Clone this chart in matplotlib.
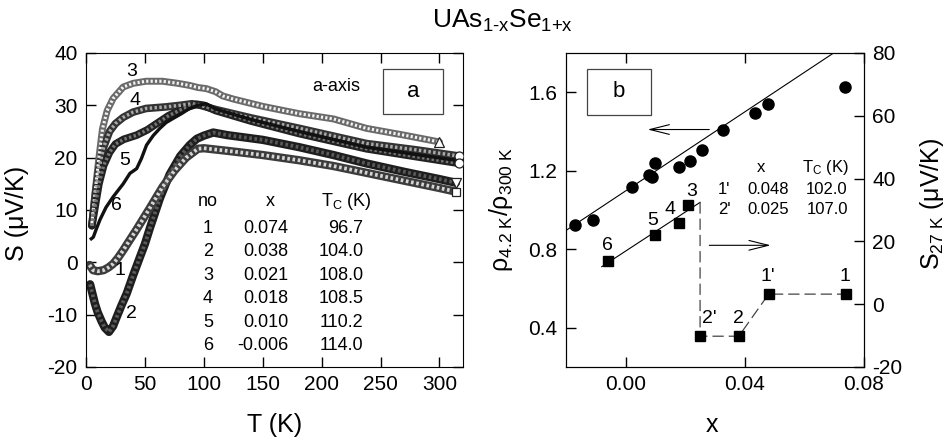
"""UAs(1-x)Se(1+x): thermopower S(T) and resistivity ratio / S_27K vs x."""
import matplotlib
matplotlib.use("Agg")
import matplotlib.pyplot as plt
from matplotlib.patches import Rectangle
import numpy as np

plt.rcParams["font.family"] = ["Liberation Sans", "DejaVu Sans"]
plt.rcParams["mathtext.fontset"] = "custom"
plt.rcParams["mathtext.rm"] = "Liberation Sans"
plt.rcParams["mathtext.it"] = "Liberation Sans"
plt.rcParams["mathtext.default"] = "regular"
plt.rcParams["axes.unicode_minus"] = False

# --- panel a: S(T) curves ------------------------------------------------
T1 = [3, 6, 10, 15, 19, 23, 27, 31.6, 37, 43, 54, 65, 75, 85, 95, 100, 120,
      150, 181, 210, 238, 270, 300, 314]
S1 = [-0.5, -1.5, -1.7, -1.5, -1.0, -0.3, 0.8, 2.3, 4.2, 6.3, 10.3, 14.4, 17.5,
      20.0, 21.7, 21.8, 21.3, 20.5, 19.5, 18.4, 17.1, 15.6, 14.2, 13.5]
T2 = [3.5, 7.6, 10, 13.3, 16, 19.5, 23, 26, 30, 34.5, 40, 45.8, 50, 54.2, 62.7,
      71, 80, 88, 94, 100, 108, 120, 150, 181, 210, 238, 270, 300, 314]
S2 = [-4.2, -7.9, -9.6, -11.3, -12.5, -13.3, -12.2, -10.5, -8.3, -6.0, -2.5, 1.0,
      3.5, 6.5, 12.2, 16.8, 20.3, 22.4, 23.6, 24.2, 24.8, 24.3, 23.4, 22.0,
      20.5, 18.9, 17.3, 15.9, 15.2]
T3 = [5, 8, 11, 14, 18, 23, 31.6, 40, 51, 65, 78, 88, 95, 102, 110, 116, 125,
      150, 181, 210, 238, 270, 300]
S3 = [7.5, 14, 20, 25.5, 29, 31.3, 33.5, 34.2, 34.6, 34.6, 34.2, 33.8, 33.4,
      33.2, 32.6, 31.8, 31.2, 29.8, 28.4, 27.4, 25.6, 24.3, 23.0]
T4 = [5, 8, 11, 15, 20, 25, 31.6, 40, 51, 68, 80, 90, 97, 110, 140, 181, 238,
      280, 317]
S4 = [7, 13, 18, 22, 25, 26.5, 27.7, 28.7, 29.4, 29.7, 30.0, 30.3, 30.0, 29.2,
      27.6, 25.6, 22.7, 21.5, 20.3]
T5 = [5, 8, 11, 15, 20, 25, 32, 43, 52, 60, 70, 80, 88, 94, 100, 110, 140, 181,
      238, 280, 317]
S5 = [7, 11, 15, 18.5, 21, 22.6, 23.5, 24.3, 25.3, 26.5, 28.0, 29.1, 29.8, 30.2,
      30.0, 29.0, 27.0, 24.6, 21.7, 20.2, 18.9]
T6 = [4.5, 6.2, 9, 12, 17, 23, 31.6, 37.3, 43, 47, 51.4, 57, 62.7, 68, 74, 81,
      88, 95, 102, 110, 140, 181, 238, 280, 317]
S6 = [4.5, 4.8, 6.5, 8.2, 10.5, 12.5, 15.0, 17.0, 17.9, 19.8, 22.4, 24.2, 25.6,
      26.7, 27.5, 28.4, 29.4, 30.0, 30.3, 29.3, 27.3, 25.0, 22.0, 20.6, 19.4]

table_no = ["1", "2", "3", "4", "5", "6"]
table_x = ["0.074", "0.038", "0.021", "0.018", "0.010", "-0.006"]
table_tc = ["96.7", "104.0", "108.0", "108.5", "110.2", "114.0"]

# --- panel b ------------------------------------------------------------------
x_rho = [-0.0171, -0.0109, 0.002, 0.0078, 0.0089, 0.0098, 0.0178, 0.0217,
         0.0255, 0.0327, 0.0435, 0.0477, 0.0735]
rho_ratio = [0.922, 0.95, 1.119, 1.178, 1.166, 1.237, 1.217, 1.251, 1.308,
             1.406, 1.496, 1.538, 1.629]
rho_fit = (10.07, 1.097)          # slope, intercept

x_s27 = [-0.006, 0.010, 0.018, 0.021, 0.025, 0.038, 0.048, 0.074]
s27 = [13.7, 22.0, 25.9, 31.7, -10.2, -10.2, 3.2, 3.2]
s27_names = ["6", "5", "4", "3", "2'", "2", "1'", "1"]
s27_fit = (621.0, 16.9)           # slope, intercept over the 6..3 samples
s27_fit_range = (-0.008, 0.025)

tab_b_names = ["1'", "2'"]
tab_b_x = ["0.048", "0.025"]
tab_b_tc = ["102.0", "107.0"]

fig = plt.figure(figsize=(9.49, 4.43), dpi=100)
ax = fig.add_axes([0.0906, 0.1716, 0.3973, 0.7088])
axb = fig.add_axes([0.5964, 0.1716, 0.3140, 0.7088])
axr = axb.twinx()

fig.text(0.529, 0.937, "UAs$_{1\u2010x}$Se$_{1\\mathrm{+x}}$",
         ha="center", va="baseline", fontsize=19)


def band(T, S, edge, face, lw, marker, ms=6.5):
    ax.plot(T, S, color=edge, lw=lw, solid_capstyle="round", zorder=2)
    ax.plot(T, S, color=face, lw=lw * 0.45, ls=(0, (0.7, 0.7)), zorder=3)
    ax.plot(T[-1], S[-1], marker=marker, ms=ms, mfc="white", mec="#222",
            mew=0.9, zorder=4)


band(T3, S3, "#6a6a6a", "#f2f2f2", 5.0, "^")
band(T4, S4, "#333333", "#aaaaaa", 5.5, "o")
band(T5, S5, "#222222", "#777777", 5.5, "o")
ax.plot(T6, S6, color="#111111", lw=2.4, zorder=3)
band(T2, S2, "#1e1e1e", "#5a5a5a", 6.0, "v")
band(T1, S1, "#3c3c3c", "#d5d5d5", 6.0, "s", ms=6)

ax.set_xlim(0, 320)
ax.set_ylim(-20, 40)
ax.set_xticks(np.arange(0, 301, 50))
ax.set_yticks(np.arange(-20, 41, 10))
ax.tick_params(direction="in", top=True, right=True, length=7, width=1,
               labelsize=15, pad=6)
ax.set_xlabel("T (K)", fontsize=18)
ax.set_ylabel("S (μV/K)", fontsize=18)
ax.xaxis.set_label_coords(0.5, -0.145)
ax.yaxis.set_label_coords(-0.15, 0.49)

for name, tt, ss in [("3", 38.7, 36.4), ("4", 41.5, 31.0), ("5", 33, 19.5),
                     ("6", 26, 10.9), ("1", 28.8, -1.5), ("2", 38.7, -9.8)]:
    ax.text(tt, ss, name, fontsize=14, ha="center", va="center")

ax.text(212, 33.5, "a-axis", fontsize=13, ha="center", va="center")
ax.add_patch(Rectangle((0.788, 0.806), 0.159, 0.143, transform=ax.transAxes,
                       fill=False, lw=0.9, ec="#444"))
ax.text(0.867, 0.878, "a", transform=ax.transAxes, fontsize=16,
        ha="center", va="center")

ax.text(103.6, 11.7, "no", fontsize=13, ha="center", va="center")
ax.text(156.5, 11.7, "x", fontsize=13, ha="center", va="center")
ax.text(221, 11.7, r"T$_{\mathrm{C}}$ (K)", fontsize=13, ha="center",
        va="center")
for i in range(len(table_no)):
    yy = 6.5 - 4.48 * i
    ax.text(103.6, yy, table_no[i], fontsize=13, ha="center", va="center")
    ax.text(171.5, yy, table_x[i], fontsize=13, ha="right", va="center")
    ax.text(235.5, yy, table_tc[i], fontsize=13, ha="right", va="center")

# panel b
xf = np.array([-0.02, 0.08])
axb.plot(xf, np.polyval(rho_fit, xf), color="k", lw=0.8, zorder=2)
axb.plot(x_rho, rho_ratio, "o", color="k", ms=8, zorder=3)

xs = np.array(s27_fit_range)
axr.plot(xs, np.polyval(s27_fit, xs), color="k", lw=0.8, zorder=2)
top_end = np.polyval(s27_fit, s27_fit_range[1])
axr.plot([x_s27[4]] + x_s27[4:], [top_end] + s27[4:], color="#444",
         lw=0.9, ls=(0, (9, 4)), zorder=2)
axr.plot(x_s27, s27, "s", color="k", ms=7, zorder=3)
offs = {"6": (0, 5.1), "5": (-0.001, 4.8), "4": (-0.003, 4.4),
        "3": (0.0012, 4.1), "2'": (0.0031, 5.7), "2": (-0.0002, 5.7),
        "1'": (-0.0003, 5.5), "1": (-0.0005, 5.5)}
for name, xx, ss in zip(s27_names, x_s27, s27):
    dx, dy = offs[name]
    axr.text(xx + dx, ss + dy, name, fontsize=14, ha="center", va="center")

axb.set_xlim(-0.02, 0.08)
axb.set_ylim(0.2, 1.8)
axb.set_xticks([0.0, 0.04, 0.08])
axb.set_xticklabels(["0.00", "0.04", "0.08"])
axb.set_yticks([0.4, 0.8, 1.2, 1.6])
axb.tick_params(direction="in", top=True, length=7, width=1, labelsize=15,
                pad=6)
axr.set_ylim(-20, 80)
axr.set_yticks(np.arange(-20, 81, 20))
axr.tick_params(direction="in", length=7, width=1, labelsize=15, pad=6)

axb.set_xlabel("x", fontsize=18)
axb.xaxis.set_label_coords(0.49, -0.145)
axb.set_ylabel(r"ρ$_{4.2\ \mathrm{K}}$/ρ$_{300\ \mathrm{K}}$", fontsize=18)
axb.yaxis.set_label_coords(-0.17, 0.5)
axr.set_ylabel(r"S$_{27\ \mathrm{K}}$ (μV/K)", fontsize=18)
axr.yaxis.set_label_coords(1.18, 0.52)

axb.add_patch(Rectangle((0.0705, 0.803), 0.2145, 0.146,
                        transform=axb.transAxes, fill=False, lw=0.9,
                        ec="#444"))
axb.text(0.178, 0.876, "b", transform=axb.transAxes, fontsize=16,
         ha="center", va="center")

arrow = dict(arrowstyle="->,head_length=1.4,head_width=0.35", lw=0.8,
             color="k", shrinkA=0, shrinkB=0)
axb.annotate("", xy=(0.0074, 1.41), xytext=(0.0281, 1.41), arrowprops=arrow)
axb.annotate("", xy=(0.0487, 0.82), xytext=(0.0281, 0.82), arrowprops=arrow)

axb.text(0.0453, 1.214, "x", fontsize=12, ha="center", va="center")
axb.text(0.067, 1.214, r"T$_{\mathrm{C}}$ (K)", fontsize=12, ha="center",
         va="center")
for i in range(len(tab_b_names)):
    yy = 1.102 - 0.101 * i
    axb.text(0.0331, yy, tab_b_names[i], fontsize=12, ha="center",
             va="center")
    axb.text(0.0478, yy, tab_b_x[i], fontsize=12, ha="center", va="center")
    axb.text(0.0676, yy, tab_b_tc[i], fontsize=12, ha="center", va="center")

fig.savefig("out.png", dpi=100)
